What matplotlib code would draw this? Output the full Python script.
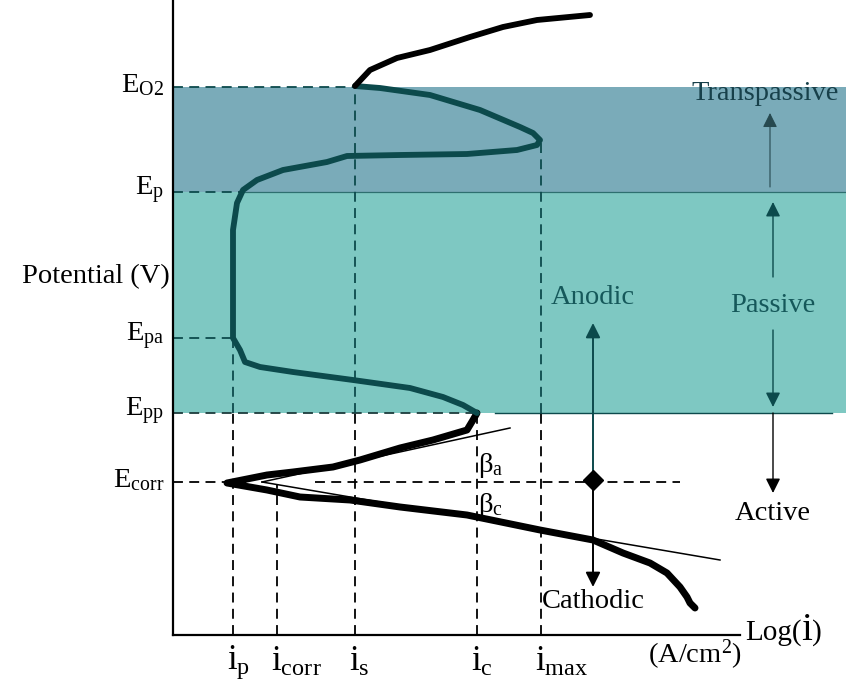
import matplotlib.pyplot as plt

plt.rcParams['font.family'] = ['Liberation Serif', 'DejaVu Serif']
plt.rcParams['mathtext.fontset'] = 'custom'
plt.rcParams['mathtext.rm'] = 'Liberation Serif'
plt.rcParams['mathtext.it'] = 'Liberation Serif:italic'

# Potential levels (arbitrary units, axis origin at 0)
E_names = ['E$_{\\mathrm{O2}}$', 'E$_{\\mathrm{p}}$', 'E$_{\\mathrm{pa}}$',
           'E$_{\\mathrm{pp}}$', 'E$_{\\mathrm{corr}}$']
E_O2, E_p, E_pa, E_pp, E_corr = 548, 443, 297, 222, 153

# Current density levels on the log(i) axis
i_names = ['i$_{\\mathrm{p}}$', 'i$_{\\mathrm{corr}}$', 'i$_{\\mathrm{s}}$',
           'i$_{\\mathrm{c}}$', 'i$_{\\mathrm{max}}$']
i_p, i_corr, i_s, i_c, i_max = 60, 104, 182, 304, 368

# Polarization curve: cathodic + active anodic part
active_x = [522, 517, 514, 507, 494, 477, 450, 420, 367, 294, 227, 177, 127,
            94, 54, 94, 120, 160, 187, 227, 260, 294, 300, 304]
active_y = [27, 32, 38, 48, 62, 72, 82, 95, 105, 120, 128, 135, 138,
            145, 152, 160, 163, 168, 175, 187, 195, 205, 215, 222]

# passive and transpassive part
passive_x = [304, 290, 270, 237, 180, 120, 87, 72, 67, 60, 60, 60, 60, 64,
             70, 84, 110, 154, 174, 227, 294, 344, 364, 367, 360, 347, 307,
             257, 207, 182]
passive_y = [222, 230, 238, 247, 255, 263, 268, 273, 285, 297, 315, 385, 405,
             432, 445, 455, 465, 473, 479, 480, 481, 485, 490, 495, 502, 508,
             525, 540, 547, 549]

# oxygen evolution above E_O2
o2_x = [182, 197, 224, 257, 297, 330, 364, 417]
o2_y = [549, 565, 577, 585, 598, 608, 615, 620]

# Tafel lines
tafel_a_x, tafel_a_y = [89, 337], [153, 207]
tafel_c_x, tafel_c_y = [89, 547], [153, 75]

TEAL = '#0c4a4c'
TEXT_TEAL = '#15585a'
BAND_TRANS = '#7aabb9'
BAND_PASS = '#7ec8c2'
X_RIGHT = 673

fig = plt.figure(figsize=(8.46, 6.99), dpi=100)
ax = fig.add_axes([173 / 846, 64 / 699, 567 / 846, 635 / 699])
ax.set_xlim(0, 567)
ax.set_ylim(0, 635)
ax.set_xticks([])
ax.set_yticks([])
ax.patch.set_alpha(0)
for side in ['top', 'right']:
    ax.spines[side].set_visible(False)
for side in ['left', 'bottom']:
    ax.spines[side].set_linewidth(1.6)
    ax.spines[side].set_zorder(5)

# shaded regions
ax.fill_between([0, X_RIGHT], E_p, E_O2, color=BAND_TRANS, lw=0,
                clip_on=False, zorder=0)
ax.fill_between([0, X_RIGHT], E_pp, E_p, color=BAND_PASS, lw=0,
                clip_on=False, zorder=0)
ax.plot([i_p + 10, X_RIGHT], [E_p, E_p], color=TEAL, lw=0.9, alpha=0.7,
        clip_on=False)
ax.plot([322, 659], [E_pp, E_pp], color=TEAL, lw=1.0, clip_on=False)

dash = dict(ls=(0, (5.5, 3.5)), lw=1.3, clip_on=False)

# horizontal guides
ax.plot([0, i_s], [E_O2, E_O2], color=TEAL, **dash)
ax.plot([0, i_p + 10], [E_p, E_p], color=TEAL, **dash)
ax.plot([0, i_p], [E_pa, E_pa], color=TEAL, **dash)
ax.plot([0, i_c], [E_pp, E_pp], color='#1c3c3c', **dash)
ax.plot([0, 52], [E_corr, E_corr], color='black', **dash)
ax.plot([142, 507], [E_corr, E_corr], color='black', **dash)


def vguide(x, top):
    # teal inside the shaded regions, black below E_pp
    if top > E_pp:
        ax.plot([x, x], [E_pp, top], color=TEAL, **dash)
        top = E_pp
    ax.plot([x, x], [0, top], color='black', **dash)


vguide(i_p, E_pa)
vguide(i_corr, E_corr - 3)
vguide(i_s, E_O2)
vguide(i_c, E_pp)
vguide(i_max, 492)

# Tafel lines
ax.plot(tafel_a_x, tafel_a_y, color='black', lw=1.1)
ax.plot(tafel_c_x, tafel_c_y, color='black', lw=1.1, clip_on=False)

# polarization curve
ax.plot(active_x, active_y, color='black', lw=5, solid_capstyle='round',
        solid_joinstyle='round', zorder=4)
ax.plot(passive_x, passive_y, color=TEAL, lw=4.2, solid_capstyle='round',
        solid_joinstyle='round', zorder=4)
ax.plot(o2_x, o2_y, color='black', lw=4.2, solid_capstyle='round',
        solid_joinstyle='round', zorder=4)

# anodic / cathodic arrows from E_corr
ax.annotate('', xy=(420, 312), xytext=(420, 155),
            arrowprops=dict(arrowstyle='-|>', color=TEAL, lw=1.4,
                            mutation_scale=22, shrinkA=0, shrinkB=0))
ax.annotate('', xy=(420, 48), xytext=(420, 155),
            arrowprops=dict(arrowstyle='-|>', color='black', lw=1.4,
                            mutation_scale=22, shrinkA=0, shrinkB=0))
ax.plot([420], [155], marker='D', color='black', ms=10, zorder=6)

# region arrows on the right
ax.annotate('', xy=(600, 228), xytext=(600, 305),
            arrowprops=dict(arrowstyle='-|>', color=TEAL, lw=1.0,
                            mutation_scale=22, shrinkA=0, shrinkB=0),
            annotation_clip=False)
ax.annotate('', xy=(600, 142), xytext=(600, 222),
            arrowprops=dict(arrowstyle='-|>', color='black', lw=1.0,
                            mutation_scale=22, shrinkA=0, shrinkB=0),
            annotation_clip=False)
ax.annotate('', xy=(600, 433), xytext=(600, 358),
            arrowprops=dict(arrowstyle='-|>', color=TEAL, lw=1.0,
                            mutation_scale=22, shrinkA=0, shrinkB=0),
            annotation_clip=False)
ax.annotate('', xy=(597, 522), xytext=(597, 448),
            arrowprops=dict(arrowstyle='-|>', color='#27494f', lw=0.8,
                            mutation_scale=22, shrinkA=0, shrinkB=0),
            annotation_clip=False)

fs = 20.5
txt = dict(ha='center', va='center', fontsize=fs, clip_on=False)
ax.text(420, 337, 'Anodic', color=TEXT_TEAL, **txt)
ax.text(420, 34, 'Cathodic', color='black', **txt)
ax.text(600, 330, 'Passive', color=TEXT_TEAL, **txt)
ax.text(600, 122, 'Active', color='black', **txt)
ax.text(592, 541, 'Transpassive', color='#17404a', **txt)
ax.text(305, 170, 'β$_{\\mathrm{a}}$', ha='left', va='center', fontsize=fs)
ax.text(305, 130, 'β$_{\\mathrm{c}}$', ha='left', va='center', fontsize=fs)

# potential labels
for name, y in zip(E_names, [E_O2, E_p, E_pa, E_pp, E_corr]):
    ax.text(-9, y + 2, name, ha='right', va='center', fontsize=fs,
            clip_on=False)
ax.text(-3, 358, 'Potential (V)', ha='right', va='center', fontsize=fs,
        clip_on=False)

# current labels
for name, x in zip(i_names, [i_p, i_corr, i_s, i_c, i_max]):
    ax.text(x - 6, -27, name, ha='left', va='center', fontsize=25,
            clip_on=False)
ax.text(475, -20, '(A/cm$^{2}$)', ha='left', va='center', fontsize=fs,
        clip_on=False)

# axis title: "Log(" followed by a larger "i"
renderer = fig.canvas.get_renderer()
inv = ax.transData.inverted()
x_txt = 572
for part, size in [('Log(', 21), ('i', 28), (')', 21)]:
    t = ax.text(x_txt, -5, part, ha='left', va='baseline', fontsize=size,
                clip_on=False)
    bb = t.get_window_extent(renderer)
    x_txt = inv.transform((bb.x1, bb.y0))[0]

fig.savefig('out.png', dpi=100)
